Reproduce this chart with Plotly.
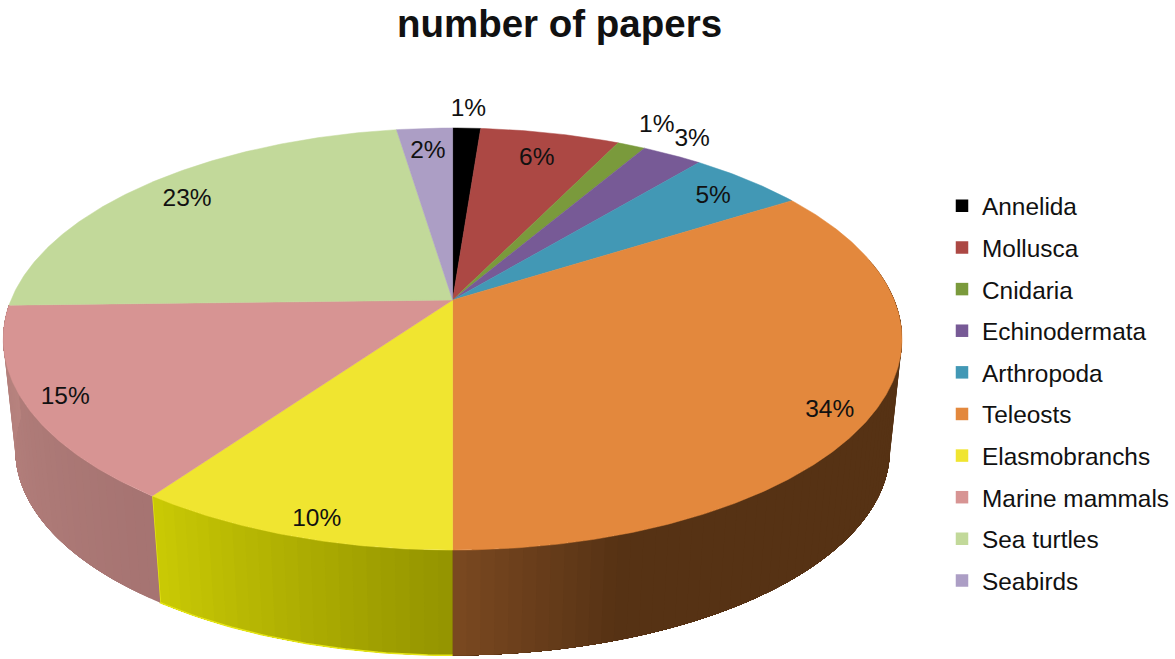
import numpy as np
import plotly.graph_objects as go

# ---- data ----
categories = ["Annelida", "Mollusca", "Cnidaria", "Echinodermata", "Arthropoda",
              "Teleosts", "Elasmobranchs", "Marine mammals", "Sea turtles", "Seabirds"]
values = [1.2, 6.0, 1.2, 2.6, 5.0, 34.0, 9.8, 14.8, 23.0, 2.4]

# ---- styles ----
colors = ["#000000", "#ac4844", "#7a9a3c", "#775a96", "#4298b5",
          "#e3883d", "#f0e530", "#d79493", "#c2d99a", "#ac9ec5"]
label_radius = [1.15, 0.84, 1.17, 1.135, 0.87, 0.915, 0.925, 0.915, 0.865, 0.86]
label_turn = [0, 0, 0, -0.8, 0, 3.0, -1.5, 0, 0, 0]
LABEL_DROP = 3.0
side_stops = {
    "Teleosts": [(0.0, "#563214"), (0.81, "#563214"), (1.0, "#7d4a22")],
    "Elasmobranchs": [(0.0, "#959500"), (1.0, "#cccc05")],
    "Marine mammals": [(0.0, "#a67472"), (1.0, "#b8837f")],
}
FONT = "Liberation Sans"

# ---- perspective projection of the pie disc ----
CX, CY, BX, AY, K = 453.0, 300.0, 442.0, 203.8, 0.185
DEPTH_CY, DEPTH_S = 412.0, 0.973


def project(theta_deg, r=1.0, lower=False):
    t = np.radians(theta_deg)
    X, Y = r * np.sin(t), -r * np.cos(t)
    w = 1 - K * Y
    px, py = BX * X / w, AY * Y / w
    if lower:
        return CX + DEPTH_S * px, DEPTH_CY + DEPTH_S * py
    return CX + px, CY + py


def hex_rgb(h):
    return np.array([int(h[i:i + 2], 16) for i in (1, 3, 5)], dtype=float)


def ramp(stops, f):
    xs = [s[0] for s in stops]
    rgb = np.array([hex_rgb(s[1]) for s in stops])
    return "rgb(%d,%d,%d)" % tuple(np.interp(f, xs, rgb[:, i]) for i in range(3))


total = sum(values)
edges = np.concatenate([[0.0], np.cumsum(values)]) / total * 360.0

fig = go.Figure()

# side wall: each strip runs to the end of its slice and is painted over by the next,
# which leaves no seams between strips
for name, a0, a1 in zip(categories, edges[:-1], edges[1:]):
    if name not in side_stops:
        continue
    lo, hi = max(a0, 78.0), min(a1, 282.0)
    n = max(int((hi - lo) / 1.5), 2)
    steps = np.linspace(lo, hi, n + 1)
    for s0 in steps[:-1]:
        arc = np.linspace(s0, hi, max(int(hi - s0) + 2, 2))
        xt, yt = project(arc)
        xb, yb = project(arc[::-1], lower=True)
        c = ramp(side_stops[name], (s0 - lo) / (hi - lo))
        fig.add_trace(go.Scatter(
            x=np.concatenate([xt, xb]).tolist(), y=np.concatenate([yt, yb]).tolist(),
            mode="none", fill="toself", fillcolor=c,
            hoverinfo="skip", showlegend=False))
    if name == "Elasmobranchs":
        arc = np.linspace(hi, lo, 40)
        xb, yb = project(arc, lower=True)
        xt, yt = project(hi)
        fig.add_trace(go.Scatter(
            x=[xt] + xb.tolist(), y=[yt] + yb.tolist(), mode="lines",
            line=dict(color="#e6e615", width=1.5), hoverinfo="skip", showlegend=False))

# top face
for name, col, a0, a1 in zip(categories, colors, edges[:-1], edges[1:]):
    arc = np.linspace(a0, a1, max(int(a1 - a0) * 2, 6))
    xa, ya = project(arc)
    fig.add_trace(go.Scatter(
        x=[CX] + xa.tolist() + [CX], y=[CY] + ya.tolist() + [CY],
        mode="lines", fill="toself", fillcolor=col, line=dict(color=col, width=0.5),
        name=name, hoverinfo="name", showlegend=False))

# percentage labels
mid = (edges[:-1] + edges[1:]) / 2 + np.array(label_turn)
lx, ly = zip(*[project(m, r) for m, r in zip(mid, label_radius)])
fig.add_trace(go.Scatter(
    x=list(lx), y=[v + LABEL_DROP for v in ly], mode="text",
    text=["%d%%" % round(v / total * 100) for v in values],
    textposition="middle center",
    textfont=dict(family=FONT, size=24.5, color="#111111"),
    hoverinfo="skip", showlegend=False))

# legend entries
for name, col in zip(categories, colors):
    fig.add_trace(go.Scatter(
        x=[None], y=[None], mode="markers", name=name, legendgroup=name,
        marker=dict(symbol="square", size=12.5, color=col, line=dict(width=0))))

fig.update_layout(
    width=1175, height=659, autosize=False,
    margin=dict(l=0, r=0, t=0, b=0),
    paper_bgcolor="white", plot_bgcolor="white",
    xaxis=dict(range=[0, 1175], visible=False, fixedrange=True),
    yaxis=dict(range=[659, 0], visible=False, fixedrange=True),
    title=dict(text="<b>number of papers</b>", x=559.5 / 1175, xanchor="center",
               y=1 - 24 / 659, yanchor="middle",
               font=dict(family=FONT, size=38.5, color="#111111")),
    legend=dict(x=942.5 / 1175, xanchor="left", y=1 - 183.5 / 659, yanchor="top",
                font=dict(family=FONT, size=24.4, color="#111111"),
                traceorder="grouped", tracegroupgap=6.9, itemwidth=30,
                bgcolor="rgba(0,0,0,0)", borderwidth=0),
)

fig.write_html("out.html", post_script="document.body.style.margin='0';",
               config=dict(displayModeBar=False))
